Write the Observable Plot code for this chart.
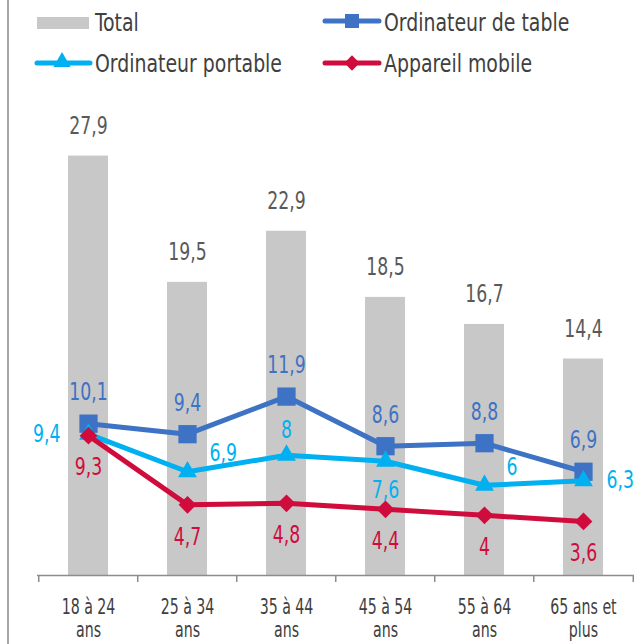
<!DOCTYPE html>
<html>
<head>
<meta charset="utf-8">
<script src="https://cdn.jsdelivr.net/npm/d3@7"></script>
<script src="https://cdn.jsdelivr.net/npm/@observablehq/plot@0.6"></script>
<style>
  html, body { margin: 0; padding: 0; background: #fff; }
  #wrap { position: relative; width: 641px; height: 644px; overflow: hidden;
          font-family: "Liberation Sans Narrow", "Arial Narrow", "DejaVu Sans Condensed", sans-serif; }
  #frame { position: absolute; left: 7px; top: 0; width: 2px; height: 644px; background: #A6A6A6; }
  #legend { position: relative; width: 641px; height: 84px; }
  .lg-sw { position: absolute; }
  .lg-tx { position: absolute; font-size: 25px; line-height: 30px; color: #404040; white-space: nowrap;
           transform: scaleX(0.84); transform-origin: 0 50%; }
  #chart svg { display: block; }
</style>
</head>
<body>
<div id="wrap">
  <div id="legend"></div>
  <div id="chart"></div>
  <div id="frame"></div>
</div>
<script>
// ---- data ----
const categories = ["18 à 24 ans", "25 à 34 ans", "35 à 44 ans", "45 à 54 ans", "55 à 64 ans", "65 ans et plus"];
const tickLabels = ["18 à 24\nans", "25 à 34\nans", "35 à 44\nans", "45 à 54\nans", "55 à 64\nans", "65 ans et\nplus"];
const total   = [27.9, 19.5, 22.9, 18.5, 16.7, 14.4];
const desktop = [10.1, 9.4, 11.9, 8.6, 8.8, 6.9];
const laptop  = [9.4, 6.9, 8, 7.6, 6, 6.3];
const mobile  = [9.3, 4.7, 4.8, 4.4, 4, 3.6];
const seriesNames = ["Total", "Ordinateur de table", "Ordinateur portable", "Appareil mobile"];
// where each laptop value label sits relative to its marker
const laptopLabelPlacement = ["left", "above-right", "above", "below", "above-right", "right"];

// ---- styles ----
const C = { total: "#C8C8C8", desktop: "#3D72C4", laptop: "#00B0F0", mobile: "#D00C3C",
            totalText: "#595959", axisText: "#404040", axis: "#8C8C8C" };
const FONT = '"Liberation Sans Narrow", "Arial Narrow", "DejaVu Sans Condensed", sans-serif';

const rows = categories.map((c, i) => ({
  cat: c, total: total[i], desktop: desktop[i], laptop: laptop[i], mobile: mobile[i],
  laptopPos: laptopLabelPlacement[i]
}));
const fmt = v => String(v).replace(".", ",");

// ---- legend (HTML) ----
const legend = d3.select("#legend");
function swatch(left, top, w, h, draw) {
  const s = legend.append("svg").attr("class", "lg-sw")
    .style("left", left + "px").style("top", top + "px")
    .attr("width", w).attr("height", h);
  draw(s);
}
function label(left, top, text) {
  legend.append("div").attr("class", "lg-tx")
    .style("left", left + "px").style("top", top + "px").text(text);
}
// Total
swatch(37, 16, 52, 14, s => s.append("rect").attr("x", 0).attr("y", 1).attr("width", 52).attr("height", 12).attr("fill", C.total));
label(95, 8, seriesNames[0]);
// Ordinateur de table
swatch(320, 8, 64, 26, s => {
  s.append("line").attr("x1", 5).attr("x2", 59).attr("y1", 13).attr("y2", 13)
    .attr("stroke", C.desktop).attr("stroke-width", 5).attr("stroke-linecap", "round");
  s.append("rect").attr("x", 25).attr("y", 6).attr("width", 14).attr("height", 14).attr("fill", C.desktop);
});
label(384, 8, seriesNames[1]);
// Ordinateur portable
swatch(32, 50, 64, 26, s => {
  s.append("line").attr("x1", 5).attr("x2", 58).attr("y1", 13).attr("y2", 13)
    .attr("stroke", C.laptop).attr("stroke-width", 5).attr("stroke-linecap", "round");
  s.append("path").attr("d", d3.symbol(d3.symbolTriangle, 130)()).attr("transform", "translate(30,12)").attr("fill", C.laptop);
});
label(95, 49, seriesNames[2]);
// Appareil mobile
swatch(320, 50, 64, 26, s => {
  s.append("line").attr("x1", 5).attr("x2", 59).attr("y1", 13).attr("y2", 13)
    .attr("stroke", C.mobile).attr("stroke-width", 5).attr("stroke-linecap", "round");
  s.append("path").attr("d", d3.symbol(d3.symbolDiamond2, 150)()).attr("transform", "translate(32,13)").attr("fill", C.mobile);
});
label(384, 49, seriesNames[3]);

// ---- chart ----
const W = 641, H = 560, ML = 37, MR = 7, MT = 40, MB = 69;
const step = (W - ML - MR) / categories.length;

const placement = {
  "left":        { textAnchor: "end",    dx: -28, dy: 0 },
  "right":       { textAnchor: "start",  dx: 23,  dy: 0 },
  "above-right": { textAnchor: "start",  dx: 22,  dy: -18 },
  "above":       { textAnchor: "middle", dx: 0,   dy: -25 },
  "below":       { textAnchor: "middle", dx: 0,   dy: 29 }
};
const laptopLabelMarks = Object.entries(placement).map(([key, p]) =>
  Plot.text(rows.filter(r => r.laptopPos === key), {
    x: "cat", y: "laptop", text: d => fmt(d.laptop), fill: C.laptop,
    fontSize: 24, textAnchor: p.textAnchor, dx: p.dx, dy: p.dy
  })
);

const chart = Plot.plot({
  width: W, height: H,
  marginLeft: ML, marginRight: MR, marginTop: MT, marginBottom: MB,
  style: { fontFamily: FONT, background: "transparent" },
  x: { domain: categories, type: "band", paddingInner: 0.6, paddingOuter: 0.3, axis: null },
  y: { domain: [0, 30], axis: null },
  marks: [
    Plot.barY(rows, { x: "cat", y: "total", fill: C.total }),
    Plot.text(rows, { x: "cat", y: "total", text: d => fmt(d.total), fill: C.totalText, fontSize: 24, dy: -30 }),
    Plot.ruleY([0], { stroke: C.axis, strokeWidth: 1.5 }),
    Plot.ruleX(categories, { x: d => d, y1: 0, y2: 0, dx: -step / 2, insetBottom: -7, stroke: C.axis, strokeWidth: 1.5 }),
    Plot.ruleX(categories.slice(-1), { x: d => d, y1: 0, y2: 0, dx: step / 2, insetBottom: -7, stroke: C.axis, strokeWidth: 1.5 }),
    Plot.axisX({ tickSize: 0, tickPadding: 21, fontSize: 21, lineHeight: 1.14, color: C.axisText, label: null,
                 tickFormat: d => tickLabels[categories.indexOf(d)] }),
    // desktop
    Plot.line(rows, { x: "cat", y: "desktop", stroke: C.desktop, strokeWidth: 5 }),
    Plot.dot(rows, { x: "cat", y: "desktop", symbol: "square", r: 10.3, fill: C.desktop }),
    // laptop
    Plot.line(rows, { x: "cat", y: "laptop", stroke: C.laptop, strokeWidth: 5 }),
    Plot.dot(rows, { x: "cat", y: "laptop", symbol: "triangle", r: 7, fill: C.laptop }),
    // mobile
    Plot.line(rows, { x: "cat", y: "mobile", stroke: C.mobile, strokeWidth: 5 }),
    Plot.dot(rows, { x: "cat", y: "mobile", symbol: "diamond2", r: 8, fill: C.mobile }),
    // labels
    Plot.text(rows, { x: "cat", y: "desktop", text: d => fmt(d.desktop), fill: C.desktop, fontSize: 24, dy: -31 }),
    ...laptopLabelMarks,
    Plot.text(rows, { x: "cat", y: "mobile", text: d => fmt(d.mobile), fill: C.mobile, fontSize: 24, dy: 32 })
  ]
});
document.getElementById("chart").appendChild(chart);

// condense the SVG text horizontally to mimic the narrow typeface of the original
function squeeze(nodes, factor) {
  nodes.forEach(t => {
    const spans = t.querySelectorAll("tspan");
    (spans.length ? Array.from(spans) : [t]).forEach(el => {
      const len = el.getComputedTextLength();
      if (len > 0) {
        el.setAttribute("textLength", (len * factor).toFixed(2));
        el.setAttribute("lengthAdjust", "spacingAndGlyphs");
      }
    });
  });
}
const axisTexts = Array.from(chart.querySelectorAll('g[aria-label="x-axis tick label"] text'));
const otherTexts = Array.from(chart.querySelectorAll("text")).filter(t => !axisTexts.includes(t));
squeeze(axisTexts, 0.75);
squeeze(otherTexts, 0.8);
</script>
</body>
</html>
